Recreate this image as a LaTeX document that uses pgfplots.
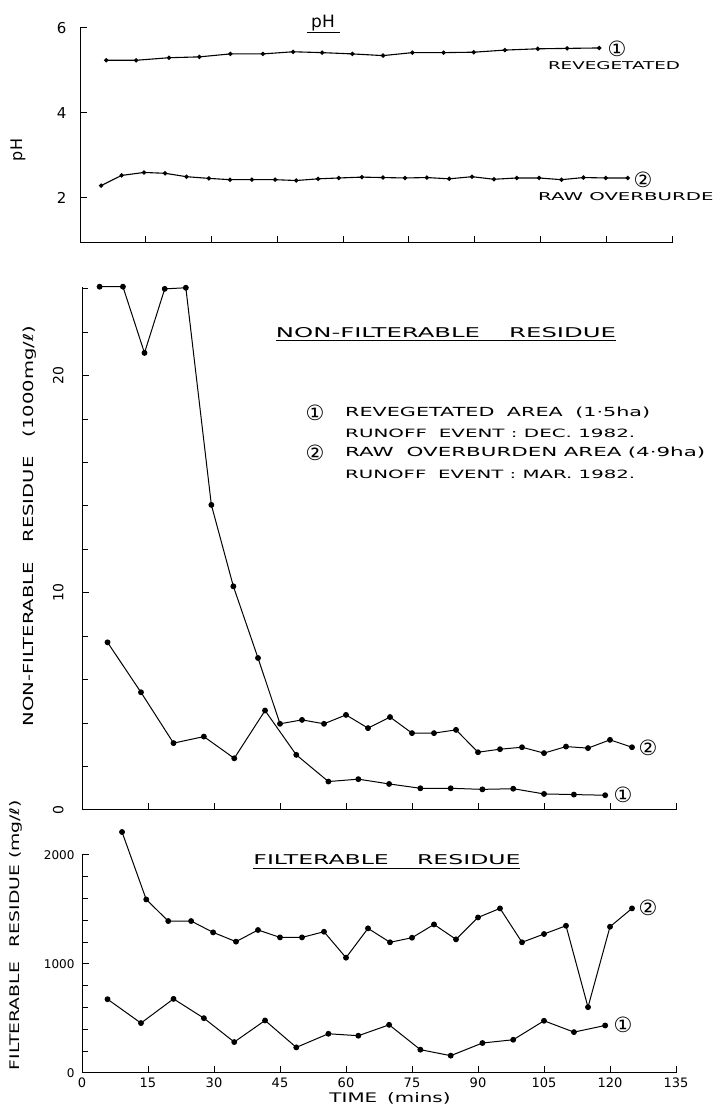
\documentclass[border=0pt]{standalone}
\usepackage{pgfplots}
\pgfplotsset{compat=1.18}
\usepackage{fontspec}
\usepackage{graphicx}
\setmainfont{DejaVu Sans}

% hand lettering: squeeze text into a given width and cap height
\newcommand{\fit}[3]{\resizebox{#1}{#2}{#3}}
\newcommand{\circnum}[1]{{\fontsize{21}{21}\selectfont #1}}

\pgfplotsset{
  panel/.style={
    scale only axis,
    axis x line*=bottom, axis y line*=left,
    xmin=0, xmax=135,
    xtick={0,15,...,135},
    tick align=inside,
    major tick length=7pt, minor tick length=6pt,
    every tick/.style={black, line width=1pt},
    axis line style={line width=1pt},
    clip=false,
    scaled ticks=false,
    ticklabel style={font=\fontsize{13}{13}\selectfont},
  },
  ser/.style={black, line width=1pt, mark=*, mark size=2.4pt, mark options={solid, fill=black}},
  serph/.style={black, line width=1.1pt, mark=*, mark size=1.6pt, mark options={solid, fill=black}},
}

\begin{document}
\begin{tikzpicture}[x=1pt, y=1pt]

% ---------------- pH ----------------
\begin{axis}[panel,
  at={(80pt,864pt)}, anchor=south west,
  width=592pt, height=215pt,
  ymin=0.94, ymax=6,
  ytick={2,4,6}, yticklabels={2,4,6},
  xticklabels={},
  yticklabel style={font=\fontsize{15}{15}\selectfont, xshift=-10pt},
]
\addplot[serph] coordinates {
  (6.0,5.24) (12.8,5.24) (20.3,5.30) (27.2,5.32) (34.3,5.39) (41.7,5.39)
  (48.6,5.44) (55.2,5.42) (62.1,5.39) (69.1,5.35) (75.8,5.42) (82.9,5.42)
  (89.8,5.43) (96.9,5.48) (104.4,5.51) (111.1,5.52) (118.4,5.53)
};
\addplot[serph] coordinates {
  (4.8,2.29) (9.5,2.53) (14.6,2.60) (19.4,2.58) (24.3,2.50) (29.4,2.46)
  (34.2,2.43) (39.2,2.43) (44.5,2.43) (49.3,2.41) (54.3,2.45) (59.0,2.47)
  (64.3,2.49) (69.1,2.48) (74.1,2.47) (79.1,2.48) (84.2,2.45) (89.4,2.50)
  (94.4,2.44) (99.6,2.47) (104.7,2.47) (109.8,2.43) (114.8,2.48) (119.9,2.47)
  (124.9,2.47)
};
\end{axis}

% ---------------- non-filterable residue ----------------
\begin{axis}[panel,
  at={(82pt,297pt)}, anchor=south west,
  width=594pt, height=523.3pt,
  ymin=0, ymax=24.1,
  ytick={0,10,20}, yticklabels={0,10,20},
  minor ytick={2,4,6,8,12,14,16,18,22,24},
  xticklabels={},
  yticklabel style={font=\fontsize{14}{14}\selectfont, xshift=-15pt, rotate=90, anchor=south},
]
\addplot[ser] coordinates {
  (5.8,7.72) (13.4,5.42) (20.8,3.08) (27.7,3.38) (34.6,2.38) (41.6,4.58)
  (48.7,2.54) (56.0,1.31) (62.8,1.42) (69.8,1.20) (76.9,1.00) (83.8,1.00)
  (91.0,0.95) (98.0,0.98) (105.0,0.74) (111.8,0.71) (118.9,0.68)
};
\addplot[ser] coordinates {
  (4.0,24.1) (9.3,24.1) (14.2,21.05) (18.8,24.0) (23.6,24.05) (29.4,14.05)
  (34.4,10.3) (40.0,7.0) (45,3.97) (50,4.15) (55,3.97) (60,4.38) (65,3.77)
  (70,4.28) (75,3.54) (80,3.54) (85,3.69) (90,2.66) (95,2.80) (100,2.89)
  (105,2.62) (110,2.92) (115,2.85) (120,3.23) (125,2.89)
};
\end{axis}

% ---------------- filterable residue ----------------
\begin{axis}[panel,
  at={(82pt,34pt)}, anchor=south west,
  width=594pt, height=218pt,
  ymin=0, ymax=2000,
  ytick={0,1000,2000}, yticklabels={0,1000,2000},
  minor ytick={200,400,...,1800},
  xticklabels={0,15,30,45,60,75,90,105,120,135},
  yticklabel style={font=\fontsize{12}{12}\selectfont, xshift=-4pt},
  xticklabel style={yshift=-1pt},
]
\addplot[ser] coordinates {
  (5.8,677) (13.4,458) (20.8,680) (27.7,503) (34.6,284) (41.6,482)
  (48.7,235) (56.0,360) (62.8,342) (69.8,442) (76.9,214) (83.8,159)
  (91.0,275) (98.0,305) (105.0,479) (111.8,375) (118.9,436)
};
\addplot[ser] coordinates {
  (9.1,2211) (14.6,1592) (19.6,1394) (24.8,1394) (29.8,1290) (35,1205)
  (40,1312) (45,1244) (50,1244) (55,1296) (60,1058) (65,1327) (70,1199)
  (75,1241) (80,1363) (85,1226) (90,1427) (95,1510) (100,1199) (105,1275)
  (110,1351) (115,604) (120,1342) (125,1510)
};
\end{axis}

% ---------------- lettering ----------------
\node at (323,1084) {\fontsize{17}{17}\selectfont pH};
\draw[line width=1pt] (307,1074) -- (340,1074);
\node[rotate=90] at (18,957) {\fontsize{16}{16}\selectfont pH};
\node at (617,1058) {\circnum{①}};
\node at (614,1041) {\fit{132pt}{8pt}{REVEGETATED}};
\node at (643,927) {\circnum{②}};
\node[anchor=west, inner sep=0pt] at (538,910) {\fit{190pt}{8pt}{RAW OVERBURDEN}};

\node at (446,774) {\fit{340pt}{10pt}{NON-FILTERABLE\hspace{1.2em}RESIDUE}};
\draw[line width=1pt] (276,766) -- (616,766);
\node at (315,694) {\circnum{①}};
\node[anchor=west, inner sep=0pt] at (345,694) {\fit{305pt}{9.5pt}{REVEGETATED\hspace{0.6em}AREA\hspace{0.6em}(1·5ha)}};
\node[anchor=west, inner sep=0pt] at (345,674) {\fit{290pt}{8.5pt}{RUNOFF\hspace{0.6em}EVENT : DEC. 1982.}};
\node at (315,654) {\circnum{②}};
\node[anchor=west, inner sep=0pt] at (345,654) {\fit{360pt}{9.5pt}{RAW\hspace{0.6em}OVERBURDEN\hspace{0.3em}AREA\hspace{0.3em}(4·9ha)}};
\node[anchor=west, inner sep=0pt] at (345,633) {\fit{290pt}{8.5pt}{RUNOFF\hspace{0.6em}EVENT : MAR. 1982.}};
\node[rotate=90] at (30,581) {\fit{400pt}{10.5pt}{NON-FILTERABLE\hspace{1em}RESIDUE\hspace{1em}(1000mg/ℓ)}};
\node at (648,359) {\circnum{②}};
\node at (623,312) {\circnum{①}};

\node at (387,247) {\fit{267pt}{10pt}{FILTERABLE\hspace{1.2em}RESIDUE}};
\draw[line width=1pt] (253,238) -- (520,238);
\node at (648,199) {\circnum{②}};
\node at (623,82) {\circnum{①}};
\node[rotate=90] at (16,172) {\fit{270pt}{10pt}{FILTERABLE\hspace{0.8em}RESIDUE\hspace{0.3em}(mg/ℓ)}};
\node at (390,9) {\fit{121pt}{10pt}{TIME\hspace{0.5em}(mins)}};

\pgfresetboundingbox
\useasboundingbox (0,0) rectangle (713,1107);
\end{tikzpicture}
\end{document}
